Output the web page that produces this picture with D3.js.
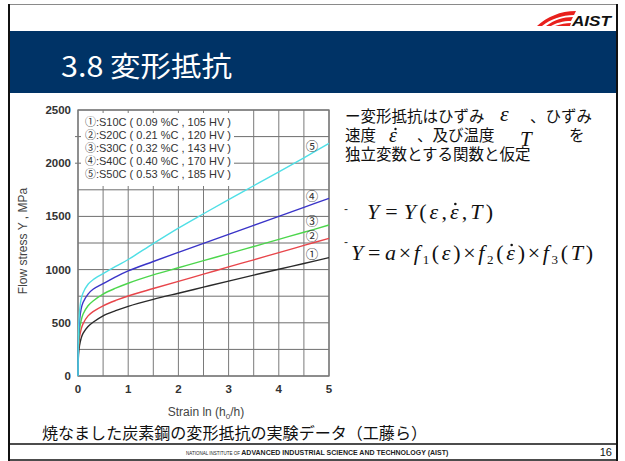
<!DOCTYPE html>
<html>
<head>
<meta charset="utf-8">
<script src="https://cdn.jsdelivr.net/npm/d3@7"></script>
<style>
  html, body { margin: 0; padding: 0; background: #fff; }
  svg { display: block; }
</style>
</head>
<body>
<svg id="slide" width="625" height="461"></svg>
<script>
// ---- data: flow stress curves of annealed carbon steels ----
const strain = [0, 0.01, 0.03, 0.06, 0.1, 0.2, 0.3, 0.5, 0.75, 1, 1.5, 2, 2.5, 3, 3.5, 4, 4.5, 5];
const s10c = [0, 200, 285, 350, 400, 465, 505, 566, 614, 655, 720, 778, 835, 892, 948, 1003, 1057, 1112];
const s20c = [0, 255, 360, 435, 490, 565, 605, 660, 710, 752, 822, 890, 957, 1025, 1092, 1160, 1227, 1294];
const s30c = [0, 295, 430, 515, 580, 660, 705, 770, 825, 872, 950, 1017, 1084, 1150, 1217, 1284, 1351, 1419];
const s40c = [0, 345, 520, 625, 690, 770, 815, 868, 932, 988, 1076, 1162, 1247, 1331, 1416, 1500, 1585, 1669];
const s50c = [0, 410, 600, 715, 780, 862, 905, 962, 1030, 1095, 1245, 1390, 1525, 1658, 1788, 1918, 2050, 2187];

const seriesMarks = ["①", "②", "③", "④", "⑤"];
const legendLabels = [
  "①:S10C ( 0.09 %C , 105 HV )",
  "②:S20C ( 0.21 %C , 120 HV )",
  "③:S30C ( 0.32 %C , 143 HV )",
  "④:S40C ( 0.40 %C , 170 HV )",
  "⑤:S50C ( 0.53 %C , 185 HV )"
];
const seriesColors = ["#2a2a2a", "#e8454a", "#4cd64c", "#3a34c8", "#4fdfe6"];
// vertical nudge (px) of each curve's end marker relative to the curve end
const markNudge = [-4, -2.5, -5, -2.5, 2];
const yTicks = [0, 500, 1000, 1500, 2000, 2500];
const xTicks = [0, 1, 2, 3, 4, 5];
const yGrid = d3.range(0, 2501, 250);
const xGrid = d3.range(0, 5.01, 0.5);

const series = [s10c, s20c, s30c, s40c, s50c].map((vals, i) => ({
  mark: seriesMarks[i],
  color: seriesColors[i],
  nudge: markNudge[i],
  points: strain.map((e, j) => ({ e, v: vals[j] }))
}));

const svg = d3.select("#slide");
const SANS = "'Liberation Sans', Arial, 'Noto Sans CJK JP', sans-serif";
const JP = "'Noto Sans CJK JP', sans-serif";
const SERIF = "'Liberation Serif', 'Times New Roman', serif";

// ---- slide frame, header band and logo ----
svg.append("rect").attr("x", 10).attr("y", 31).attr("width", 606).attr("height", 62).attr("fill", "#003366");
svg.append("line").attr("x1", 8).attr("x2", 618).attr("y1", 4.5).attr("y2", 4.5).attr("stroke", "#8a8a8a").attr("stroke-width", 1);
svg.append("line").attr("x1", 9).attr("x2", 9).attr("y1", 4).attr("y2", 461).attr("stroke", "#111").attr("stroke-width", 2);
svg.append("line").attr("x1", 617).attr("x2", 617).attr("y1", 4).attr("y2", 461).attr("stroke", "#111").attr("stroke-width", 2);
svg.append("line").attr("x1", 9).attr("x2", 617).attr("y1", 444).attr("y2", 444).attr("stroke", "#111").attr("stroke-width", 1.5);
svg.append("line").attr("x1", 9).attr("x2", 617).attr("y1", 460).attr("y2", 460).attr("stroke", "#111").attr("stroke-width", 1.5);

svg.append("text").attr("x", 61).attr("y", 77)
  .attr("font-family", JP).attr("font-size", 28).attr("fill", "#fff")
  .attr("textLength", 171).attr("lengthAdjust", "spacingAndGlyphs")
  .text("3.8 変形抵抗");

// AIST logo: red swoosh + lettering
const logo = svg.append("g").attr("fill", "#e8201c");
logo.append("path").attr("d", "M537,26 C547,17 560,11 576,11 L574,15 C562,15 551,19 542,26 Z");
logo.append("path").attr("d", "M546,26 C554,20 563,17 573,17 L571,21 C563,21 556,23 551,26 Z");
logo.append("path").attr("d", "M555,26 C561,24 566,23 571,23 L570,26 Z");
svg.append("text").attr("x", 572).attr("y", 25.5)
  .attr("font-family", SANS).attr("font-size", 15).attr("font-weight", "bold").attr("font-style", "italic")
  .attr("fill", "#111").attr("textLength", 39).attr("lengthAdjust", "spacingAndGlyphs")
  .text("AIST");

// ---- chart ----
const x = d3.scaleLinear().domain([0, 5]).range([78, 329]);
const y = d3.scaleLinear().domain([0, 2500]).range([376, 110]);

const grid = svg.append("g");
grid.selectAll("line.h").data(yGrid).join("line")
  .attr("x1", d => (d === 2250 || d === 2000) ? x(0) - 3 : x(0)).attr("x2", x(5))
  .attr("y1", d => y(d)).attr("y2", d => y(d))
  .attr("stroke", "#6e6e6e").attr("stroke-width", 1);
grid.selectAll("line.v").data(xGrid).join("line")
  .attr("x1", d => x(d)).attr("x2", d => x(d))
  .attr("y1", y(0)).attr("y2", y(2500))
  .attr("stroke", "#7a7a7a").attr("stroke-width", 1);

// plot frame
svg.append("rect").attr("x", x(0)).attr("y", y(2500)).attr("width", x(5) - x(0)).attr("height", y(0) - y(2500))
  .attr("fill", "none").attr("stroke", "#777").attr("stroke-width", 1.3);

// legend panel
const legend = svg.append("g");
legend.append("rect").attr("x", 81).attr("y", 113).attr("width", 153).attr("height", 73).attr("fill", "#fff");
legend.selectAll("text").data(legendLabels).join("text")
  .attr("x", 85).attr("y", (d, i) => 125.5 + i * 13.1)
  .attr("font-family", SANS).attr("font-size", 11).attr("fill", "#333")
  .attr("textLength", 146).attr("lengthAdjust", "spacingAndGlyphs")
  .text(d => d);

// curves
const line = d3.line().x(d => x(d.e)).y(d => y(d.v)).curve(d3.curveCatmullRom.alpha(0.5));
svg.append("g").selectAll("path").data(series).join("path")
  .attr("d", d => line(d.points))
  .attr("fill", "none").attr("stroke", d => d.color).attr("stroke-width", 1.4);

// curve markers near right edge
svg.append("g").selectAll("text").data(series).join("text")
  .attr("x", x(4.66)).attr("y", d => y(d.points[d.points.length - 1].v) + d.nudge)
  .attr("text-anchor", "middle").attr("dominant-baseline", "central")
  .attr("font-family", JP).attr("font-size", 12.5).attr("fill", "#333")
  .text(d => d.mark);

// tick labels
svg.append("g").selectAll("text").data(yTicks).join("text")
  .attr("x", 71).attr("y", d => y(d) + 4)
  .attr("text-anchor", "end")
  .attr("font-family", SANS).attr("font-size", 11.5).attr("font-weight", "bold").attr("fill", "#333")
  .text(d => d);
svg.append("g").selectAll("text").data(xTicks).join("text")
  .attr("x", d => x(d)).attr("y", 393)
  .attr("text-anchor", "middle")
  .attr("font-family", SANS).attr("font-size", 11.5).attr("font-weight", "bold").attr("fill", "#333")
  .text(d => d);

// axis titles
svg.append("text").attr("transform", "translate(27,241) rotate(-90)")
  .attr("text-anchor", "middle")
  .attr("font-family", SANS).attr("font-size", 12).attr("fill", "#444")
  .text("Flow stress Y , MPa");
const xt = svg.append("text").attr("x", 206).attr("y", 416)
  .attr("text-anchor", "middle")
  .attr("font-family", SANS).attr("font-size", 12).attr("fill", "#444");
xt.append("tspan").text("Strain  ln (h");
xt.append("tspan").attr("font-size", 8).attr("dy", 2.5).text("0");
xt.append("tspan").attr("dy", -2.5).text("/h)");

// caption
svg.append("text").attr("x", 42).attr("y", 439)
  .attr("font-family", JP).attr("font-size", 16).attr("fill", "#111")
  .attr("textLength", 385).attr("lengthAdjust", "spacingAndGlyphs")
  .text("焼なました炭素鋼の変形抵抗の実験データ（工藤ら）");

// footer
const ft = svg.append("text").attr("x", 186).attr("y", 455)
  .attr("font-family", SANS).attr("fill", "#222");
ft.append("tspan").attr("font-size", 4.5).text("NATIONAL INSTITUTE OF ");
ft.append("tspan").attr("font-size", 7).attr("font-weight", "bold").text("ADVANCED INDUSTRIAL SCIENCE AND TECHNOLOGY (AIST)");
svg.append("text").attr("x", 612).attr("y", 456).attr("text-anchor", "end")
  .attr("font-family", SANS).attr("font-size", 11).attr("fill", "#111").text("16");

// ---- explanatory text ----
const tx = svg.append("g").attr("font-family", JP).attr("font-size", 15.5).attr("fill", "#111");
tx.append("text").attr("x", 345).attr("y", 122).text("ー変形抵抗はひずみ");
tx.append("text").attr("x", 530).attr("y", 122).text("、ひずみ");
tx.append("text").attr("x", 345).attr("y", 141).text("速度");
tx.append("text").attr("x", 417).attr("y", 141).text("、及び温度");
tx.append("text").attr("x", 569).attr("y", 141).text("を");
tx.append("text").attr("x", 345).attr("y", 160).text("独立変数とする関数と仮定");

const mx = svg.append("g").attr("font-family", SERIF).attr("font-style", "italic").attr("fill", "#111");
mx.append("text").attr("x", 500).attr("y", 121).attr("font-size", 22).text("ε");
mx.append("text").attr("x", 389).attr("y", 142).attr("font-size", 20).text("ε");
svg.append("circle").attr("cx", 395.5).attr("cy", 129).attr("r", 1.2).attr("fill", "#111");
mx.append("text").attr("x", 520).attr("y", 146).attr("font-size", 21).text("T");

// Lays out a formula token by token, then spreads it to the given width.
function formula(x0, baseline, width, tokens) {
  const g = svg.append("g").attr("font-family", SERIF).attr("fill", "#111");
  const items = tokens.map(tk => {
    const t = g.append("text")
      .attr("y", baseline + (tk.dy || 0))
      .attr("font-size", tk.size || 22)
      .attr("font-style", tk.it ? "italic" : "normal")
      .text(tk.t);
    return { tk, t, w: t.node().getComputedTextLength() };
  });
  const natural = d3.sum(items, d => d.w + (d.tk.pad || 0));
  const extra = (width - natural) / Math.max(1, items.length - 1);
  let cx = x0;
  items.forEach(d => {
    d.t.attr("x", cx);
    if (d.tk.dot) {
      g.append("circle").attr("cx", cx + d.w * 0.62).attr("cy", baseline - 15).attr("r", 1.3).attr("fill", "#111");
    }
    cx += d.w + (d.tk.pad || 0) + extra;
  });
}

formula(367, 219, 126, [
  { t: "Y", it: true, pad: 3 }, { t: "=", pad: 3 }, { t: "Y", it: true }, { t: "(" },
  { t: "ε", it: true }, { t: "," }, { t: "ε", it: true, dot: true }, { t: "," },
  { t: "T", it: true }, { t: ")" }
]);
svg.append("text").attr("x", 344).attr("y", 213).attr("font-family", SANS).attr("font-size", 12).attr("fill", "#333").text("-");

formula(351, 260, 242, [
  { t: "Y", it: true, pad: 2 }, { t: "=", pad: 2 }, { t: "a", it: true }, { t: "×" },
  { t: "f", it: true }, { t: "1", size: 13, dy: 4 }, { t: "(" }, { t: "ε", it: true }, { t: ")" }, { t: "×" },
  { t: "f", it: true }, { t: "2", size: 13, dy: 4 }, { t: "(" }, { t: "ε", it: true, dot: true }, { t: ")" }, { t: "×" },
  { t: "f", it: true }, { t: "3", size: 13, dy: 4 }, { t: "(" }, { t: "T", it: true }, { t: ")" }
]);
svg.append("text").attr("x", 344).attr("y", 246).attr("font-family", SANS).attr("font-size", 12).attr("fill", "#333").text("-");
</script>
</body>
</html>
